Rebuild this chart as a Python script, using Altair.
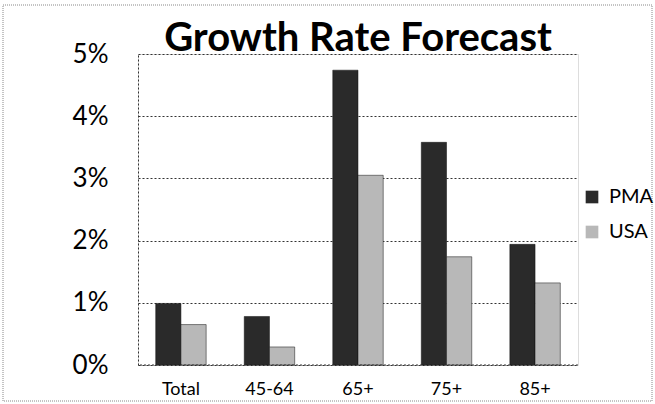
import altair as alt
import pandas as pd

categories = ["Total", "45-64", "65+", "75+", "85+"]
pma = [0.0099, 0.0078, 0.0474, 0.0358, 0.0194]
usa = [0.0065, 0.0029, 0.0305, 0.0174, 0.0132]
series = ["PMA", "USA"]
y_ticks = [0, 0.01, 0.02, 0.03, 0.04, 0.05]

rows = []
for c, p, u in zip(categories, pma, usa):
    rows.append({"Group": c, "Series": "PMA", "Rate": p})
    rows.append({"Group": c, "Series": "USA", "Rate": u})
df = pd.DataFrame(rows)

FONT = "Lato"
W, H = 440, 311

bars = alt.Chart(df).mark_bar(stroke="#111111", strokeWidth=0.5).encode(
    x=alt.X("Group:N", sort=categories, title=None,
            scale=alt.Scale(paddingInner=0.43, paddingOuter=0.2),
            axis=alt.Axis(labelAngle=0, labelFontSize=18, labelFont=FONT,
                          labelColor="black", labelPadding=15, ticks=False,
                          domain=False, grid=False)),
    xOffset=alt.XOffset("Series:N", sort=series,
                        scale=alt.Scale(paddingInner=0, paddingOuter=0)),
    y=alt.Y("Rate:Q", title=None,
            scale=alt.Scale(domain=[0, 0.05], nice=False),
            axis=alt.Axis(values=y_ticks, format=".0%", labelFontSize=26,
                          labelFont=FONT, labelColor="black", labelPadding=30,
                          ticks=False, domain=True, domainColor="#333333",
                          domainDash=[2, 2], grid=True, gridColor="#333333",
                          gridDash=[2, 2], gridWidth=1)),
    color=alt.Color("Series:N", sort=series,
                    scale=alt.Scale(domain=series, range=["#2a2a2a", "#b8b8b8"]),
                    legend=alt.Legend(title=None, orient="none", legendX=444,
                                      legendY=133, symbolType="square",
                                      symbolSize=160, symbolStrokeWidth=0,
                                      labelFontSize=20, labelFont=FONT,
                                      labelColor="black", labelOffset=7,
                                      rowPadding=15)),
)

base_rule = alt.Chart(pd.DataFrame({"v": [0]})).mark_rule(
    color="#333333", strokeDash=[2, 2], strokeWidth=1
).encode(y="v:Q")

border = alt.Chart(pd.DataFrame({"v": [0]})).mark_rect(
    fill=None, stroke="#888888", strokeDash=[1, 1], strokeWidth=1
).encode(x=alt.value(-135), x2=alt.value(514), y=alt.value(-49), y2=alt.value(347))

chart = alt.layer(border, bars, base_rule).properties(
    width=W, height=H,
    title=alt.TitleParams("Growth Rate Forecast", fontSize=40, font=FONT,
                          fontWeight="bold", color="black", anchor="middle",
                          baseline="alphabetic", offset=5, dy=91),
    padding={"left": 138, "top": 54, "right": 77, "bottom": 39},
    autosize=alt.AutoSizeParams(type="none"),
).configure_view(stroke=None).configure(background="white")

chart.save("out.html", embed_options={"renderer": "svg", "actions": False})
